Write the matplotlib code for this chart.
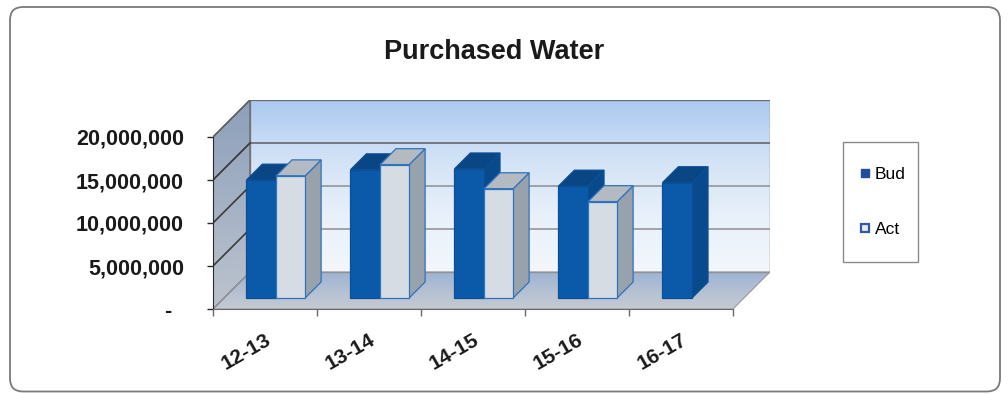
import numpy as np
import matplotlib
matplotlib.use("Agg")
import matplotlib.pyplot as plt
from matplotlib.patches import Polygon, FancyBboxPatch, Rectangle
from matplotlib.colors import LinearSegmentedColormap
from matplotlib.lines import Line2D

plt.rcParams["font.family"] = ["Liberation Sans", "DejaVu Sans"]

# ---- data -------------------------------------------------------------
categories = ["12-13", "13-14", "14-15", "15-16", "16-17"]
budget = [13.7e6, 14.9e6, 15.0e6, 13.0e6, 13.4e6]
actual = [14.2e6, 15.5e6, 12.7e6, 11.2e6, None]
series_names = ["Bud", "Act"]
y_ticks = [0, 5e6, 10e6, 15e6, 20e6]
y_tick_labels = ["-  ", "5,000,000", "10,000,000", "15,000,000", "20,000,000"]
y_max = 20e6

# ---- figure -----------------------------------------------------------
W, H = 1008, 394
fig = plt.figure(figsize=(W / 100, H / 100), dpi=100)
fig.patch.set_facecolor("white")

# rounded chart border (inches)
border = FancyBboxPatch((0.10, 0.025), 9.90, 3.845,
                        boxstyle="round,pad=0,rounding_size=0.13",
                        transform=fig.dpi_scale_trans, fill=False,
                        edgecolor="#7a7a7a", linewidth=1.3)
fig.patches.append(border)

fig.text(494 / W, 1 - 52 / H, "Purchased Water", ha="center", va="center",
         fontsize=19.5, fontweight="bold", color="#1a1a1a")

# 3-D look: depth offset of the plot box (in data units)
n = len(categories)
DX = 37 / 104
DY = 37 / 172 * y_max

left_px, right_px, top_px, bot_px = 213, 770, 100, 309
ax = fig.add_axes([left_px / W, 1 - bot_px / H,
                   (right_px - left_px) / W, (bot_px - top_px) / H])
ax.patch.set_visible(False)


def P(x, v, d):
    return (x + d * DX, v + d * DY)


def gradient_fill(poly_pts, colors, extent, vertical=True, z=1):
    cmap = LinearSegmentedColormap.from_list("g", colors)
    g = np.linspace(0, 1, 256)
    img = g.reshape(-1, 1) if vertical else g.reshape(1, -1)
    im = ax.imshow(img, cmap=cmap, extent=extent, aspect="auto",
                   origin="lower", zorder=z, interpolation="bilinear")
    clip = Polygon(poly_pts, closed=True, transform=ax.transData,
                   facecolor="none", edgecolor="none")
    im.set_clip_path(clip)
    return im


# back wall (colors listed bottom -> top)
back = [P(0, 0, 1), P(n, 0, 1), P(n, y_max, 1), P(0, y_max, 1)]
gradient_fill(back, ["#f3f7fc", "#e8f0fa", "#d2e2f6", "#abc9f0"],
              [DX, n + DX, DY, y_max + DY])
# side wall
side = [P(0, 0, 0), P(0, 0, 1), P(0, y_max, 1), P(0, y_max, 0)]
gradient_fill(side, ["#bcc3cd", "#a5b2c5", "#8d9fbb"],
              [0, DX, 0, y_max + DY])
# floor
floor = [P(0, 0, 0), P(n, 0, 0), P(n, 0, 1), P(0, 0, 1)]
gradient_fill(floor, ["#c6cad2", "#b4c0d2", "#9db3d6"],
              [0, n + DX, 0, DY])

# wall outlines
ax.add_patch(Polygon(back, closed=True, fill=False, edgecolor="#8a8a8a",
                     lw=1.0, zorder=2))
ax.add_patch(Polygon(side, closed=True, fill=False, edgecolor="#6a6a6a",
                     lw=1.0, zorder=2))
ax.add_patch(Polygon(floor, closed=True, fill=False, edgecolor="#9a9a9a",
                     lw=0.8, zorder=2))

# gridlines on side wall and back wall
for v in y_ticks[1:]:
    xs, ys = zip(P(0, v, 0), P(0, v, 1), P(n, v, 1))
    ax.plot(xs, ys, color="#5f5f5f" if v in (15e6, 20e6) else "#8e8e8e",
            lw=1.1, zorder=2)
for v in y_ticks[1:-1]:
    xs, ys = zip(P(0, v, 0), P(0, v, 1))
    ax.plot(xs, ys, color="#3a3a3a", lw=1.1, zorder=2)

# ---- bars -------------------------------------------------------------
bw = 0.285
d0, d1 = 0.30, 0.73
styles = {
    "Bud": dict(front="#0b5aa9", side="#094a8d", top="#0a4683",
                edge="#0a4f96"),
    "Act": dict(front="#d5dce3", side="#98a2ac", top="#b3bac2",
                edge="#2f73bd"),
}


def box(x0, x1, v, st, z):
    front = [P(x0, 0, d0), P(x1, 0, d0), P(x1, v, d0), P(x0, v, d0)]
    sidef = [P(x1, 0, d0), P(x1, 0, d1), P(x1, v, d1), P(x1, v, d0)]
    topf = [P(x0, v, d0), P(x1, v, d0), P(x1, v, d1), P(x0, v, d1)]
    for pts, col in ((sidef, st["side"]), (topf, st["top"]),
                     (front, st["front"])):
        ax.add_patch(Polygon(pts, closed=True, facecolor=col,
                             edgecolor=st["edge"], lw=0.9, zorder=z))


z = 3
for i in range(n):
    c = i + 0.5
    box(c - bw, c, budget[i], styles["Bud"], z)
    z += 1
    if actual[i] is not None:
        box(c, c + bw - 0.005, actual[i], styles["Act"], z)
        z += 1

# ---- axes -------------------------------------------------------------
ax.set_xlim(0, n + DX)
ax.set_ylim(0, y_max + DY)
for s in ("top", "right"):
    ax.spines[s].set_visible(False)
ax.spines["left"].set_bounds(0, y_max)
ax.spines["bottom"].set_bounds(0, n)
ax.spines["left"].set_color("#2a2a2a")
ax.spines["bottom"].set_color("#6a6a6a")
ax.spines["left"].set_zorder(20)
ax.spines["bottom"].set_zorder(20)

ax.set_yticks(y_ticks)
ax.set_yticklabels(y_tick_labels)
ax.tick_params(axis="y", length=4, width=1, color="#2a2a2a", pad=17,
               labelsize=15.5)
for t in ax.get_yticklabels():
    t.set_fontweight("bold")
    t.set_color("#1a1a1a")

ax.set_xticks([i + 0.5 for i in range(n)])
ax.set_xticklabels(categories)
ax.set_xticks(range(n + 1), minor=True)
ax.tick_params(axis="x", which="major", length=0, pad=15, labelsize=15)
ax.tick_params(axis="x", which="minor", length=5, width=1, color="#6a6a6a")
for t in ax.get_xticklabels():
    t.set_fontweight("bold")
    t.set_rotation(30)
    t.set_ha("right")
    t.set_rotation_mode("anchor")
    t.set_color("#1a1a1a")

# ---- legend -----------------------------------------------------------
fig.patches.append(Rectangle((843 / W, 1 - 262 / H), 75 / W, 120 / H,
                             transform=fig.transFigure, facecolor="white",
                             edgecolor="#8a8a8a", lw=1.0))
handles = [
    Line2D([], [], ls="none", marker="s", markersize=5.5,
           markerfacecolor="#1f4e9a", markeredgecolor="#1f4e9a"),
    Line2D([], [], ls="none", marker="s", markersize=5.5,
           markerfacecolor="#e6ecf2", markeredgecolor="#2d5aa0",
           markeredgewidth=1.6),
]
fig.legend(handles, series_names, loc="center",
           bbox_to_anchor=(883 / W, 1 - 202 / H), frameon=False,
           fontsize=12.5, labelspacing=2.3, handlelength=0.55,
           handletextpad=0.3, borderpad=0)

fig.savefig("out.png", dpi=100, facecolor="white")
